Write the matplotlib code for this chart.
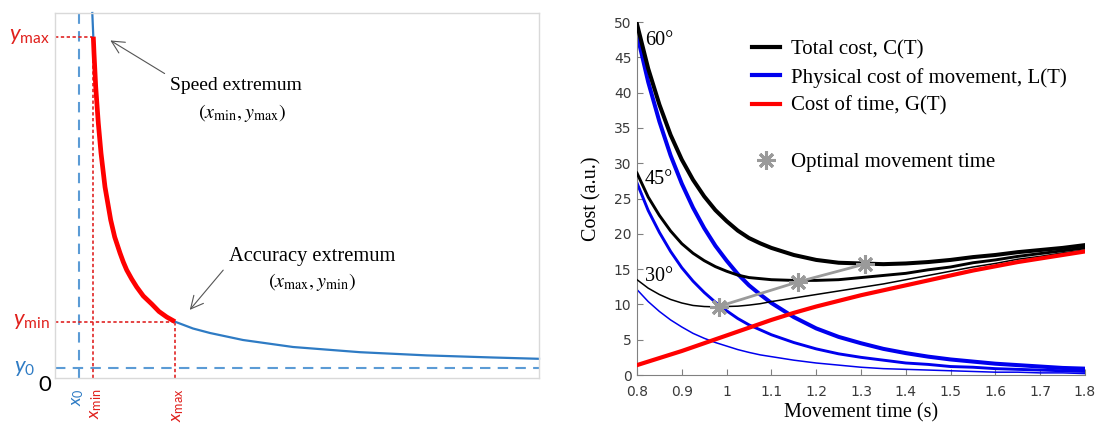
import numpy as np
import matplotlib.pyplot as plt
from matplotlib.lines import Line2D

plt.rcParams['font.family'] = 'Liberation Serif'
plt.rcParams['mathtext.fontset'] = 'custom'
plt.rcParams['mathtext.rm'] = 'Lato'
plt.rcParams['mathtext.it'] = 'Lato:italic'

# ---- left panel: schematic speed/accuracy curve (arbitrary units)
curve_x = [37.3, 38.3, 39.0, 40.7, 43.3, 46.0, 50.0, 55.7, 59.7, 65.0, 68.3, 71.7, 76.7,
           81.7, 88.3, 96.7, 104.0, 111.7, 120.0, 138.0, 155.0, 188.0, 238.0, 305.0,
           372.0, 438.0, 484.0]
curve_y = [365.0, 341.3, 325.0, 291.3, 255.0, 225.0, 191.0, 158.0, 141.0, 125.0, 116.0, 108.0, 99.0,
           91.0, 82.0, 74.0, 66.5, 61.0, 56.3, 49.5, 45.0, 38.0, 31.0, 25.8,
           22.6, 20.5, 19.2]
x0, y0 = 24, 10
x_min, y_max = 38.3, 341.3
x_max, y_min = 120.0, 56.3

# ---- right panel: costs vs movement time
T = [0.800, 0.825, 0.850, 0.875, 0.900, 0.925, 0.950, 0.975, 1.000, 1.025, 1.050, 1.075, 1.100,
     1.15, 1.20, 1.25, 1.30, 1.35, 1.40, 1.45, 1.50, 1.55, 1.60, 1.65, 1.70, 1.75, 1.80]
G = [1.4, 1.9, 2.4, 2.9, 3.4, 3.95, 4.5, 5.05, 5.6, 6.15, 6.7, 7.25, 7.8,
     8.8, 9.7, 10.5, 11.3, 12.0, 12.7, 13.4, 14.1, 14.8, 15.4, 16.0, 16.5, 17.0, 17.5]
L60 = [48.3, 41.5, 35.9, 31.1, 27.1, 23.7, 20.8, 18.3, 16.2, 14.3, 12.7, 11.4, 10.2,
       8.2, 6.6, 5.4, 4.5, 3.7, 3.1, 2.6, 2.2, 1.9, 1.6, 1.4, 1.2, 1.0, 0.9]
L45 = [27.2, 23.3, 20.2, 17.5, 15.2, 13.3, 11.7, 10.3, 9.1, 8.0, 7.1, 6.4, 5.7,
       4.6, 3.7, 3.0, 2.5, 2.1, 1.7, 1.5, 1.2, 1.1, 0.9, 0.8, 0.7, 0.6, 0.5]
L30 = [12.1, 10.4, 9.0, 7.8, 6.8, 5.9, 5.2, 4.6, 4.1, 3.6, 3.2, 2.85, 2.6,
       2.1, 1.7, 1.4, 1.1, 0.9, 0.8, 0.7, 0.6, 0.5, 0.4, 0.4, 0.3, 0.3, 0.2]
angles = ['60°', '45°', '30°']
angle_label_y = [47.4, 27.7, 13.9]
opt_T = [0.982, 1.16, 1.308]
opt_C = [9.7, 13.2, 15.7]

fig = plt.figure(figsize=(11.03, 4.23), dpi=100)

# ================= left
ax1 = fig.add_axes([55/1103, 45/423, 484/1103, 365/423])
ax1.set_xlim(0, 484)
ax1.set_ylim(0, 365)
ax1.set_xticks([])
ax1.set_yticks([])
for s in ax1.spines.values():
    s.set_color('#d9d9d9')
    s.set_linewidth(1)

lblue = '#5b9bd5'
dred = '#e02424'
ax1.axvline(x0, color=lblue, lw=1.5, ls=(0, (5, 3.5)))
ax1.axhline(y0, color=lblue, lw=1.5, ls=(0, (5, 3.5)))
ax1.plot([x_min, x_min], [0, y_max], color=dred, lw=1.2, ls=(0, (2, 1.5)))
ax1.plot([0, x_min], [y_max, y_max], color=dred, lw=1.2, ls=(0, (2, 1.5)))
ax1.plot([x_max, x_max], [0, y_min], color=dred, lw=1.2, ls=(0, (2, 1.5)))
ax1.plot([0, x_max], [y_min, y_min], color=dred, lw=1.2, ls=(0, (2, 1.5)))

cx = np.array(curve_x)
cy = np.array(curve_y)
ax1.plot(cx, cy, color='#2e7bc4', lw=1.6, clip_on=False)
seg = (cx >= x_min) & (cx <= x_max)
ax1.plot(cx[seg], cy[seg], color='#ff0000', lw=3.4, solid_capstyle='butt', solid_joinstyle='round')

lab = dict(math_fontfamily='custom', fontsize=16, clip_on=False)
ax1.text(-5, y_max, r'$\mathit{y}_{\mathrm{max}}$', color='#e0201c', ha='right', va='center', **lab)
ax1.text(-5, y_min, r'$\mathit{y}_{\mathrm{min}}$', color='#e0201c', ha='right', va='center', **lab)
ax1.text(-20, y0, r'$\mathit{y}_{0}$', color='#2e7bc4', ha='right', va='center', **lab)
ax1.text(-10, -7, '0', color='black', ha='center', va='center', family='Lato', fontsize=16)
rot = dict(math_fontfamily='custom', fontsize=13, clip_on=False, ha='center', va='top', rotation=90)
ax1.text(x0 - 1, -10, r'$\mathit{x}_{0}$', color='#2e7bc4', **rot)
ax1.text(x_min + 2.5, -10, r'$\mathit{x}_{\mathrm{min}}$', color='#e0201c', **rot)
ax1.text(x_max + 3, -10, r'$\mathit{x}_{\mathrm{max}}$', color='#e0201c', **rot)

ax1.annotate('', xy=(53, 339), xytext=(112, 303),
             arrowprops=dict(arrowstyle='->,head_length=0.9,head_width=0.45', color='#555555', lw=0.8))
ax1.text(181, 293, 'Speed extremum', ha='center', va='center', fontsize=14)
ax1.text(187, 265, r'$(x_{\mathrm{min}}, y_{\mathrm{max}})$', math_fontfamily='stix',
         ha='center', va='center', fontsize=14.5)
ax1.annotate('', xy=(133, 66), xytext=(170, 110),
             arrowprops=dict(arrowstyle='->,head_length=0.9,head_width=0.45', color='#555555', lw=0.8))
ax1.text(257, 121, 'Accuracy extremum', ha='center', va='center', fontsize=14.8)
ax1.text(257, 96, r'$(x_{\mathrm{max}}, y_{\mathrm{min}})$', math_fontfamily='stix',
         ha='center', va='center', fontsize=14.5)

# ================= right
ax2 = fig.add_axes([637/1103, 48/423, 448/1103, 353/423])
G = np.array(G)
widths = [2.9, 2.1, 1.1]
for L, lw in zip([L60, L45, L30], widths):
    ax2.plot(T, L, color='#0000ee', lw=lw, zorder=2)
for L, lw in zip([L60, L45, L30], widths):
    ax2.plot(T, np.array(L) + G, color='black', lw=lw, zorder=3)
ax2.plot(T, G, color='#ff0000', lw=3.0, zorder=3)

star = (8, 2, 0)
ax2.plot(opt_T, opt_C, color='#9a9a9a', lw=2, marker=star, ms=13, mew=2.2, zorder=5)

for a, ly in zip(angles, angle_label_y):
    ax2.text(0.818, ly, a, fontsize=14.5, ha='left', va='center')

ax2.set_xlim(0.8, 1.8)
ax2.set_ylim(0, 50)
ax2.set_xticks(np.arange(0.8, 1.81, 0.1))
ax2.set_xticklabels(['0.8', '0.9', '1', '1.1', '1.2', '1.3', '1.4', '1.5', '1.6', '1.7', '1.8'])
ax2.set_yticks(range(0, 51, 5))
ax2.tick_params(direction='in', length=4, width=0.8, color='#808080', labelsize=10,
                labelcolor='#3a3a3a', labelfontfamily='DejaVu Sans')
ax2.tick_params(axis='x', pad=7)
ax2.tick_params(axis='y', pad=4)
for side in ['top', 'right']:
    ax2.spines[side].set_visible(False)
for side in ['left', 'bottom']:
    ax2.spines[side].set_color('#808080')
    ax2.spines[side].set_linewidth(0.8)
ax2.set_xlabel('Movement time (s)', fontsize=14.5, labelpad=3)
ax2.set_ylabel('Cost (a.u.)', fontsize=14.5, labelpad=9)

handles = [Line2D([], [], color='black', lw=3),
           Line2D([], [], color='#0000ee', lw=3),
           Line2D([], [], color='#ff0000', lw=3),
           Line2D([], [], color='none'),
           Line2D([], [], ls='none', marker=star, ms=13, mew=2.2, color='#9a9a9a')]
labels = ['Total cost, C(T)', 'Physical cost of movement, L(T)', 'Cost of time, G(T)', '',
          'Optimal movement time']
ax2.legend(handles, labels, loc='upper left', bbox_to_anchor=(0.256, 0.950), frameon=False,
           fontsize=15, borderpad=0, borderaxespad=0, handlelength=1.35, handletextpad=0.55,
           labelspacing=0.41)

fig.savefig('out.png', dpi=100)
